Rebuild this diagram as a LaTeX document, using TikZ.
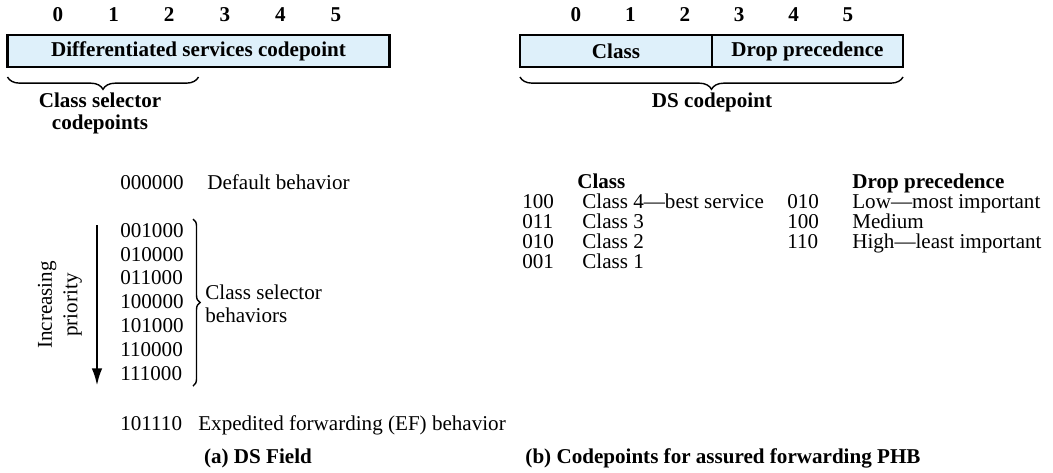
\documentclass[tikz,border=0pt]{standalone}
\usepackage{fontspec}
\setmainfont{Liberation Serif}
\usetikzlibrary{arrows.meta, positioning, decorations.pathreplacing}
\definecolor{fieldblue}{RGB}{222,240,250}
\newcommand{\dsfont}{\fontsize{12}{14.5}\selectfont}

\begin{document}
\begin{tikzpicture}[x=0.2mm, y=-0.2mm, every node/.style={font=\dsfont, inner sep=0pt},
    fieldbox/.style={draw=black, line width=1.6pt, fill=fieldblue, outer sep=0pt,
      minimum height=0.64cm, font=\dsfont\bfseries},
    bold/.style={font=\dsfont\bfseries},
    item/.style={anchor=west, text height=8.5pt, text depth=2.5pt},
    head/.style={item, font=\dsfont\bfseries},
    bracedown/.style={decorate, decoration={brace, mirror, amplitude=7pt}, line width=0.8pt},
    braceright/.style={decorate, decoration={brace, amplitude=4pt}, line width=0.8pt},
    prioarrow/.style={line width=1.6pt, -{Latex[length=10pt, width=6pt]}}
  ]
  \useasboundingbox (0,0) rectangle (1053,472);

  % Bitnummern
  \foreach \i in {0,...,5} {
    \node[bold] (la\i) at (58+55.6*\i, 15) {\i};
    \node[bold] (rb\i) at (576+54.4*\i, 15) {\i};
  }

  % (a) DS-Feld
  \node[fieldbox, minimum width=7.64cm] (dsf) at (198.5,51) {Differentiated services codepoint};
  \draw[bracedown] ([yshift=-0.2cm]dsf.south west) -- ([yshift=-0.2cm]dsf.south);
  \node[bold, align=center, font=\fontsize{12}{12.5}\selectfont\bfseries] (csc) at (100,113) {Class selector\\codepoints};

  % (b) Klasse und Drop precedence
  \node[fieldbox, minimum width=3.84cm] (cls) at (616,51) {Class};
  \node[fieldbox, minimum width=3.82cm, right=0pt of cls] (drop) {Drop precedence};
  \draw[bracedown] ([yshift=-0.2cm]cls.south west) -- ([yshift=-0.2cm]drop.south east);
  \node[bold] (dscp) at (712,102) {DS codepoint};

  % Codepoints links
  \node[item] (dflc) at (120,184) {000000};
  \node[item] (dflt) at (207,184) {Default behavior};
  \foreach \code [count=\k from 0] in {001000,010000,011000,100000,101000,110000,111000}
    \node[item] (cs\k) at (120, 232+23.8*\k) {\code};

  \coordinate (bt) at (193,219);
  \coordinate (bb) at (193,386);
  \draw[braceright] (bt) -- (bb);
  \node[anchor=west, align=left, font=\fontsize{12}{13}\selectfont] (csb) at (205,304) {Class selector\\behaviors};

  % Prioritaetspfeil
  \coordinate (pt) at (97,225);
  \coordinate (pb) at (97,386);
  \draw[prioarrow] (pt) -- (pb);
  \node[rotate=90, align=center] (prio) at (60,305) {Increasing\\priority};

  \node[item] (efc) at (120,425) {101110};
  \node[item] (eft) at (198,425) {Expedited forwarding (EF) behavior};
  \node[bold] (capa) at (258,458) {(a) DS Field};

  % Tabellen rechts
  \node[head] (hcl) at (577,183) {Class};
  \node[head] (hdp) at (852,183) {Drop precedence};
  \foreach \code/\txt [count=\k from 0] in {100/Class 4—best service, 011/Class 3, 010/Class 2, 001/Class 1} {
    \node[item] (ac\k) at (522, 203+20*\k) {\code};
    \node[item] (at\k) at (582, 203+20*\k) {\txt};
  }
  \foreach \code/\txt [count=\k from 0] in {010/Low—most important, 100/Medium, 110/High—least important} {
    \node[item] (dc\k) at (787, 203+20*\k) {\code};
    \node[item] (dt\k) at (852, 203+20*\k) {\txt};
  }
  \node[bold] (capb) at (723,458) {(b) Codepoints for assured forwarding PHB};

\end{tikzpicture}
\end{document}
